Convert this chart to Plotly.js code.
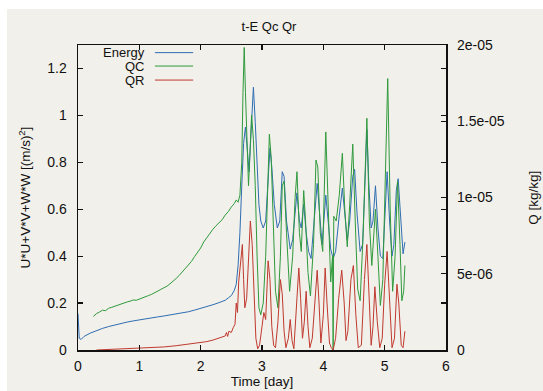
<!DOCTYPE html>
<html>
<head>
<meta charset="utf-8">
<script src="https://cdn.plot.ly/plotly-3.0.1.min.js"></script>
<style>
  html, body { margin:0; padding:0; background:#ffffff; width:543px; height:391px; overflow:hidden; }
  #chart { position:absolute; left:7px; top:9px; width:536px; height:382px; }
</style>
</head>
<body>
<div id="chart"></div>
<script>
// ---- Energy (left axis, (m/s)^2) ----
const energyTime = [0.00,0.01,0.02,0.05,0.1,0.2,0.3,0.4,0.5,0.6,0.7,0.8,0.9,1.0,1.1,1.2,1.3,1.4,1.5,1.6,1.7,1.8,1.9,2.0,2.1,2.2,2.3,2.4,2.45,2.5,2.55,2.58,2.61,2.64,2.67,2.70,2.73,2.76,2.79,2.82,2.86,2.89,2.92,2.95,2.98,3.02,3.06,3.10,3.13,3.16,3.20,3.25,3.29,3.33,3.36,3.40,3.46,3.50,3.54,3.57,3.61,3.64,3.68,3.72,3.76,3.80,3.85,3.90,3.94,3.98,4.04,4.08,4.12,4.16,4.20,4.25,4.31,4.35,4.39,4.43,4.48,4.51,4.55,4.60,4.64,4.68,4.71,4.74,4.78,4.81,4.85,4.89,4.93,4.97,5.00,5.04,5.08,5.12,5.15,5.19,5.22,5.26,5.30,5.33];
const energy     = [0.155,0.10,0.05,0.045,0.058,0.072,0.083,0.092,0.100,0.107,0.113,0.119,0.124,0.129,0.133,0.137,0.141,0.145,0.149,0.153,0.158,0.163,0.170,0.177,0.185,0.193,0.202,0.212,0.222,0.232,0.255,0.28,0.36,0.50,0.70,0.88,0.95,0.85,0.76,0.92,1.12,0.97,0.78,0.62,0.55,0.52,0.55,0.75,0.86,0.78,0.62,0.52,0.55,0.76,0.74,0.55,0.43,0.47,0.60,0.67,0.55,0.52,0.62,0.50,0.42,0.39,0.55,0.71,0.58,0.45,0.66,0.55,0.43,0.39,0.42,0.55,0.69,0.58,0.47,0.55,0.74,0.77,0.58,0.42,0.45,0.72,0.94,0.72,0.52,0.55,0.70,0.52,0.40,0.39,0.55,0.76,0.55,0.40,0.45,0.68,0.73,0.55,0.41,0.46];

// ---- QC (right axis, kg/kg) ----
const qcTime = [0.25,0.3,0.35,0.4,0.45,0.5,0.55,0.6,0.65,0.7,0.75,0.8,0.85,0.9,0.95,1.0,1.05,1.1,1.15,1.2,1.25,1.3,1.35,1.4,1.45,1.5,1.55,1.6,1.65,1.7,1.75,1.8,1.85,1.9,1.95,2.0,2.05,2.1,2.15,2.2,2.25,2.3,2.35,2.4,2.45,2.5,2.55,2.58,2.61,2.64,2.67,2.69,2.71,2.73,2.76,2.78,2.80,2.83,2.86,2.89,2.92,2.95,2.98,3.02,3.06,3.09,3.12,3.15,3.18,3.22,3.26,3.30,3.33,3.36,3.40,3.45,3.50,3.54,3.57,3.61,3.64,3.68,3.71,3.75,3.79,3.84,3.88,3.91,3.95,3.99,4.04,4.08,4.12,4.15,4.16,4.17,4.21,4.26,4.31,4.35,4.39,4.43,4.48,4.52,4.56,4.60,4.65,4.71,4.75,4.79,4.85,4.89,4.93,4.97,5.01,5.05,5.09,5.13,5.17,5.21,5.25,5.28,5.31,5.33];
const qc = [2.20e-6,2.38e-6,2.49e-6,2.61e-6,2.58e-6,2.74e-6,2.80e-6,2.88e-6,2.92e-6,3.01e-6,3.08e-6,3.15e-6,3.20e-6,3.28e-6,3.26e-6,3.35e-6,3.41e-6,3.48e-6,3.57e-6,3.65e-6,3.74e-6,3.85e-6,3.97e-6,4.08e-6,4.18e-6,4.34e-6,4.49e-6,4.69e-6,4.89e-6,5.11e-6,5.31e-6,5.57e-6,5.81e-6,6.12e-6,6.38e-6,6.69e-6,7.08e-6,7.38e-6,7.69e-6,7.92e-6,8.15e-6,8.38e-6,8.54e-6,8.85e-6,9.07e-6,9.38e-6,9.61e-6,9.84e-6,9.69e-6,10.15e-6,12.3e-6,16.9e-6,19.84e-6,16.9e-6,12.3e-6,10.77e-6,12.6e-6,15.4e-6,13.8e-6,10.77e-6,6.15e-6,2.77e-6,2.31e-6,3.08e-6,6.15e-6,10.77e-6,14.15e-6,12.6e-6,8.46e-6,3.85e-6,2.77e-6,6.15e-6,10.77e-6,11.07e-6,7.69e-6,3.85e-6,6.15e-6,10.0e-6,11.69e-6,7.69e-6,6.46e-6,10.46e-6,8.46e-6,5.08e-6,3.54e-6,6.92e-6,12.46e-6,12.0e-6,7.69e-6,6.46e-6,14.3e-6,10.0e-6,4.46e-6,6.15e-6,0,8.77e-6,8.46e-6,10.15e-6,12.9e-6,9.23e-6,6.77e-6,9.54e-6,13.5e-6,8.46e-6,4.0e-6,3.23e-6,7.69e-6,15.2e-6,8.46e-6,5.54e-6,9.23e-6,6.15e-6,2.92e-6,4.62e-6,11.5e-6,17.8e-6,9.23e-6,3.85e-6,6.15e-6,11.07e-6,6.92e-6,3.23e-6,3.85e-6,5.54e-6];

// ---- QR (right axis, kg/kg) ----
const qrTime = [0.3,0.5,0.8,1.0,1.2,1.4,1.6,1.8,2.0,2.1,2.2,2.3,2.35,2.4,2.42,2.44,2.46,2.5,2.53,2.56,2.58,2.60,2.62,2.65,2.68,2.70,2.72,2.75,2.78,2.81,2.84,2.87,2.90,2.93,2.96,3.00,3.03,3.06,3.10,3.13,3.16,3.19,3.22,3.26,3.30,3.33,3.36,3.39,3.43,3.46,3.49,3.52,3.56,3.60,3.63,3.66,3.69,3.72,3.75,3.78,3.82,3.86,3.90,3.93,3.96,4.00,4.03,4.06,4.10,4.13,4.16,4.20,4.25,4.30,4.34,4.37,4.40,4.45,4.49,4.53,4.57,4.62,4.67,4.71,4.75,4.78,4.81,4.84,4.88,4.92,4.96,5.00,5.04,5.08,5.12,5.16,5.20,5.23,5.27,5.30,5.33];
const qr = [0,0.03e-6,0.08e-6,0.11e-6,0.15e-6,0.20e-6,0.28e-6,0.37e-6,0.48e-6,0.55e-6,0.65e-6,0.77e-6,0.85e-6,0.92e-6,1.15e-6,0.89e-6,1.23e-6,1.15e-6,1.46e-6,1.69e-6,3.08e-6,2.46e-6,4.46e-6,5.85e-6,6.92e-6,4.62e-6,2.77e-6,3.38e-6,6.15e-6,8.46e-6,6.92e-6,3.08e-6,0.77e-6,0.08e-6,0.31e-6,1.54e-6,2.46e-6,2.0e-6,5.85e-6,4.62e-6,1.54e-6,0.31e-6,0.15e-6,1.85e-6,4.62e-6,3.69e-6,1.23e-6,0.15e-6,0.77e-6,2.0e-6,0.62e-6,0.08e-6,3.08e-6,5.38e-6,3.38e-6,0.77e-6,1.85e-6,3.85e-6,1.54e-6,0.15e-6,0.77e-6,3.38e-6,5.23e-6,3.08e-6,0.46e-6,2.31e-6,5.38e-6,3.08e-6,0.46e-6,0.15e-6,0,0.77e-6,3.38e-6,5.23e-6,3.08e-6,0.62e-6,1.23e-6,4.62e-6,5.54e-6,2.31e-6,0.15e-6,0.31e-6,4.62e-6,6.92e-6,3.08e-6,0.31e-6,1.54e-6,4.15e-6,1.85e-6,0.15e-6,0.77e-6,4.31e-6,6.46e-6,3.38e-6,0.15e-6,0.77e-6,4.31e-6,3.08e-6,0.31e-6,0.15e-6,1.23e-6];

const seriesNames = ['Energy','QC','QR'];
const seriesColors = ['#2f6db2','#2f9a3c','#c0392f'];
const xTickVals = [0,1,2,3,4,5,6];
const y2TickVals = [0,5e-6,1e-5,1.5e-5,2e-5];
const y2TickText = ['0','5e-06','1e-05','1.5e-05','2e-05'];

const font = 'Liberation Sans, Arial, Helvetica, sans-serif';
const ink = '#111111';

const traces = [
  {x: energyTime, y: energy, name: seriesNames[0], type:'scatter', mode:'lines', yaxis:'y',
   line:{color:seriesColors[0], width:1}},
  {x: qcTime, y: qc, name: seriesNames[1], type:'scatter', mode:'lines', yaxis:'y2',
   line:{color:seriesColors[1], width:1}},
  {x: qrTime, y: qr, name: seriesNames[2], type:'scatter', mode:'lines', yaxis:'y2',
   line:{color:seriesColors[2], width:1}}
];

// legend (gnuplot style: text left, sample line right)
const legY = [0.975, 0.931, 0.885];
const annotations = seriesNames.map((n,i)=>({
  text:n, xref:'paper', yref:'paper', x:0.185, y:legY[i], xanchor:'right', yanchor:'middle',
  showarrow:false, borderpad:0, font:{family:font, size:13, color:ink}
}));
annotations.push({text:'Q [kg/kg]', xref:'paper', yref:'paper', x:1.237, y:0.5,
  xanchor:'center', yanchor:'middle', textangle:-90, showarrow:false,
  font:{family:font, size:13.5, color:ink}});
const shapes = seriesNames.map((n,i)=>({
  type:'line', xref:'paper', yref:'paper', x0:0.209, x1:0.313, y0:legY[i], y1:legY[i],
  line:{color:seriesColors[i], width:1}
}));

const layout = {
  width:536, height:382,
  margin:{l:71, r:97, t:36, b:41},
  paper_bgcolor:'#f1f0ea', plot_bgcolor:'#f1f0ea',
  showlegend:false,
  font:{family:font, size:14, color:ink},
  title:{text:'t-E Qc Qr', x:0.4888, xanchor:'center', y:0.955, yanchor:'middle', font:{family:font, size:13, color:ink}},
  xaxis:{range:[0,6], tickvals:xTickVals, ticks:'inside', ticklen:5, tickwidth:1.2, tickcolor:ink,
    showline:true, linecolor:ink, linewidth:1.5, mirror:'ticks', showgrid:false, zeroline:false,
    ticklabelstandoff:3, tickfont:{family:font, size:14, color:ink},
    title:{text:'Time [day]', standoff:3, font:{family:font, size:13.5, color:ink}}},
  yaxis:{range:[0,1.3], dtick:0.2, tick0:0, ticks:'inside', ticklen:5, tickwidth:1.2, tickcolor:ink,
    showline:true, linecolor:ink, linewidth:1.5, mirror:'ticks', showgrid:false, zeroline:false,
    ticklabelstandoff:7, tickfont:{family:font, size:14, color:ink},
    title:{text:'U*U+V*V+W*W [(m/s)<sup>2</sup>]', standoff:13, font:{family:font, size:13.5, color:ink}}},
  yaxis2:{range:[0,2e-5], overlaying:'y', side:'right', tickvals:y2TickVals, ticktext:y2TickText,
    ticks:'inside', ticklen:5, tickwidth:1.2, tickcolor:ink, showline:false, showgrid:false, zeroline:false,
    ticklabelstandoff:10, tickfont:{family:font, size:14, color:ink}},
  annotations: annotations,
  shapes: shapes
};

Plotly.newPlot('chart', traces, layout, {displayModeBar:false, staticPlot:true});
</script>
</body>
</html>
